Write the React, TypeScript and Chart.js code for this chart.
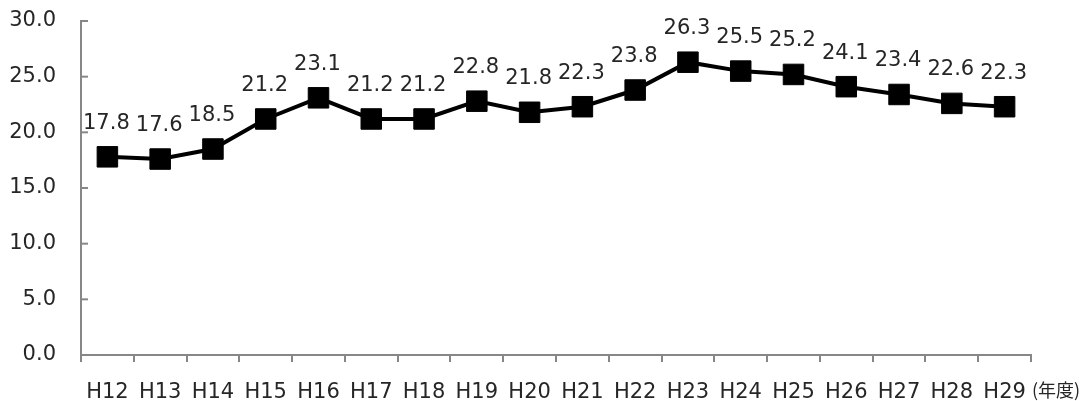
import React, { useEffect, useRef } from "react";
import { Chart, registerables } from "chart.js";

Chart.register(...registerables);

const categories = ["H12", "H13", "H14", "H15", "H16", "H17", "H18", "H19", "H20", "H21", "H22", "H23", "H24", "H25", "H26", "H27", "H28", "H29"];
const values = [17.8, 17.6, 18.5, 21.2, 23.1, 21.2, 21.2, 22.8, 21.8, 22.3, 23.8, 26.3, 25.5, 25.2, 24.1, 23.4, 22.6, 22.3];
const yTicks = [0, 5, 10, 15, 20, 25, 30];
const unitLabel = "(年度)";

const FONT = "'DejaVu Sans', 'Noto Sans CJK JP', sans-serif";
const CJK_FONT = "'Noto Sans CJK JP', sans-serif";
const AXIS_COLOR = "#878787";
const TEXT_COLOR = "#262626";

const labelPlugin = {
  id: "valueLabels",
  afterDatasetsDraw(chart: any) {
    const ctx = chart.ctx;
    const meta = chart.getDatasetMeta(0);
    ctx.save();
    ctx.font = `21px ${FONT}`;
    ctx.fillStyle = TEXT_COLOR;
    ctx.textAlign = "center";
    ctx.textBaseline = "alphabetic";
    meta.data.forEach((pt: any, i: number) => {
      ctx.fillText(values[i].toFixed(1), pt.x - 1, pt.y - 28);
    });
    ctx.restore();
  },
  afterDraw(chart: any) {
    const ctx = chart.ctx;
    const y = chart.scales.y;
    const area = chart.chartArea;
    ctx.save();
    ctx.strokeStyle = AXIS_COLOR;
    ctx.lineWidth = 2;
    yTicks.forEach((v) => {
      const py = y.getPixelForValue(v);
      ctx.beginPath();
      ctx.moveTo(area.left, py);
      ctx.lineTo(area.left + 7, py);
      ctx.stroke();
    });
    ctx.font = `18px ${CJK_FONT}`;
    ctx.fillStyle = TEXT_COLOR;
    ctx.textAlign = "left";
    ctx.textBaseline = "alphabetic";
    ctx.fillText(unitLabel, area.right + 1, 397);
    ctx.restore();
  },
};

export default function App() {
  const ref = useRef<HTMLCanvasElement | null>(null);
  useEffect(() => {
    if (!ref.current) return;
    const chart = new Chart(ref.current, {
      type: "line",
      data: {
        labels: categories,
        datasets: [
          {
            data: values,
            borderColor: "#000000",
            borderWidth: 4,
            backgroundColor: "#000000",
            pointStyle: "rect",
            pointRadius: 14.5,
            pointBorderWidth: 1,
            pointBackgroundColor: "#000000",
            pointBorderColor: "#000000",
            tension: 0,
          },
        ],
      },
      options: {
        animation: false,
        responsive: true,
        maintainAspectRatio: false,
        layout: { padding: { top: 21, right: 61, left: 0, bottom: 0 } },
        plugins: { legend: { display: false }, tooltip: { enabled: false } },
        scales: {
          x: {
            type: "category",
            offset: true,
            grid: {
              display: true,
              drawOnChartArea: false,
              drawTicks: true,
              tickLength: 7,
              offset: true,
              color: AXIS_COLOR,
              lineWidth: 2,
            },
            border: { display: true, color: AXIS_COLOR, width: 2 },
            ticks: {
              font: { family: FONT, size: 21 },
              color: TEXT_COLOR,
              padding: 18,
              maxRotation: 0,
              autoSkip: false,
            },
            afterFit(scale: any) {
              scale.height = 46;
              scale.paddingLeft = 0;
              scale.paddingRight = 0;
            },
          },
          y: {
            min: 0,
            max: 30,
            grid: { display: false, drawTicks: false },
            border: { display: true, color: AXIS_COLOR, width: 2 },
            ticks: {
              stepSize: 5,
              font: { family: FONT, size: 21 },
              color: TEXT_COLOR,
              padding: 25,
              callback: (v: any) => Number(v).toFixed(1),
            },
            afterFit(scale: any) {
              scale.width = 81;
              scale.paddingTop = 0;
              scale.paddingBottom = 0;
            },
          },
        },
      },
      plugins: [labelPlugin],
    });
    return () => chart.destroy();
  }, []);
  return (
    <div style={{ position: "fixed", left: 0, top: 0, width: 1092, height: 401, background: "#fff" }}>
      <canvas ref={ref} />
    </div>
  );
}
